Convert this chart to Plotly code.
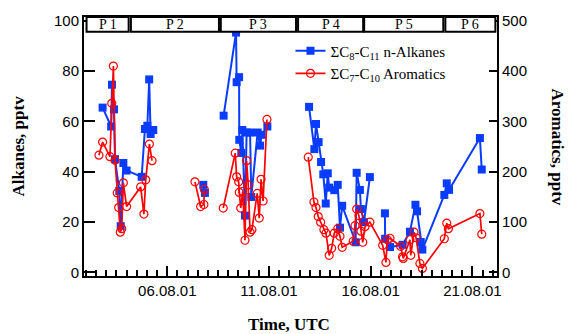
import pandas as pd
import plotly.graph_objects as go

# ---- data (day of August 2001, fractional; None = gap in record) ----
alk_day = [2.82, 3.24, 3.28, 3.38, 3.43, 3.64, 3.71, 3.84, 4.00, 4.74, 4.90, 5.02, 5.11, 5.18, 5.31,
           None,
           7.77, 7.85,
           None,
           8.77, 9.38, 9.41, 9.53, 9.54, 9.64, 9.69, 9.82, 9.90, 10.07, 10.13, 10.44, 10.56, 10.64, 10.92,
           None,
           12.97, 13.23, 13.31, 13.44, 13.56, 13.67, 13.79, 13.89, 13.96, 14.21, 14.38, 14.49, 14.60,
           15.26, 15.31, 15.47, 15.52, 15.67, 15.96,
           None,
           16.70, 16.71, 16.95, 17.57, 17.93, 18.20, 18.28, 18.46, 18.54,
           19.62, 19.74, 19.85, 21.37, 21.46]
alk_val = [65.5, 58.0, 74.6, 64.8, 45.0, 32.4, 18.4, 43.5, 40.5, 38.0, 57.0, 58.3, 76.7, 55.0, 56.6,
           None,
           34.8, 31.6,
           None,
           62.3, 95.3, 75.6, 77.6, 52.7, 47.5, 56.6, 22.6, 55.6, 55.6, 30.0, 55.6, 50.4, 54.7, 58.0,
           None,
           65.8, 49.0, 59.0, 51.8, 43.9, 39.0, 27.4, 39.4, 33.7, 32.7, 34.8, 17.8, 26.5,
           12.0, 39.6, 32.8, 25.2, 20.0, 37.9,
           None,
           23.5, 13.4, 10.1, 11.0, 16.2, 26.9, 24.3, 12.1, 9.1,
           30.8, 35.4, 32.8, 53.4, 40.9]

aro_day = [2.64, 2.82, 3.18, 3.27, 3.35, 3.43, 3.54, 3.61, 3.69, 3.76, 3.84, 4.00, 4.69, 4.85, 4.94, 5.12, 5.25,
           None,
           7.36, 7.64, 7.80, 7.82,
           None,
           8.75, 9.34, 9.41, 9.51, 9.54, 9.61, 9.71, 9.82, 9.90, 9.98, 10.07, 10.16, 10.42, 10.52, 10.61, 10.71, 10.90,
           None,
           12.93, 13.21, 13.31, 13.42, 13.54, 13.70, 13.80, 13.96, 14.08, 14.21, 14.38, 14.49, 14.60,
           15.14, 15.23, 15.31, 15.42, 15.52, 15.61, 15.72, 15.96,
           16.59, 16.75, 16.82, 16.95, 17.47, 17.57, 17.60, 17.93, 17.97, 18.13, 18.23, 18.42, 18.54,
           19.62, 19.74, 19.82, 21.37, 21.46]
aro_val = [233, 259, 230, 336, 410, 223, 158, 129, 80, 87, 178, 131, 170, 116, 184, 255, 222,
           None,
           180, 131, 135, 165,
           None,
           128, 237, 190, 180, 159, 128, 161, 64, 222, 174, 80, 85, 157, 108, 185, 142, 304,
           None,
           229, 140, 129, 111, 100, 85, 78, 34, 48, 78, 87, 72, 50,
           62, 93, 126, 113, 82, 60, 91, 100,
           54, 20, 65, 68, 52, 31, 28, 65, 34, 80, 69, 18, 8,
           67, 98, 87, 117, 76]

period_labels = ["P 1", "P 2", "P 3", "P 4", "P 5", "P 6"]
period_start = [2.03, 4.21, 8.63, 12.43, 15.68, 19.67]
period_end = [4.10, 8.54, 12.33, 15.63, 19.57, 22.13]

x_start_day, x_end_day = 1.905, 22.21


def to_time(d):
    if d is None:
        return None
    return pd.Timestamp("2001-08-01") + pd.to_timedelta(d - 1, unit="D")


BLUE = "rgb(10,60,255)"
RED = "rgb(255,0,0)"
SERIF = "Liberation Serif, Times New Roman, serif"
SANS = "Liberation Sans, Arial, sans-serif"

fig = go.Figure()
fig.add_trace(go.Scatter(
    x=[to_time(d) for d in alk_day], y=alk_val,
    mode="lines+markers", name="ΣC<sub>8</sub>-C<sub>11</sub> n-Alkanes",
    line=dict(color=BLUE, width=2),
    marker=dict(symbol="square", size=8, color=BLUE),
    connectgaps=False, yaxis="y"))
fig.add_trace(go.Scatter(
    x=[to_time(d) for d in aro_day], y=aro_val,
    mode="lines+markers", name="ΣC<sub>7</sub>-C<sub>10</sub> Aromatics",
    line=dict(color=RED, width=1.7),
    marker=dict(symbol="circle-open", size=8, color=RED, line=dict(width=1.2)),
    connectgaps=False, yaxis="y2"))

# period boxes
box_h = 15 / 262
for lab, s, e in zip(period_labels, period_start, period_end):
    fig.add_shape(type="rect", xref="x", yref="paper",
                  x0=to_time(s), x1=to_time(e), y0=1 - box_h, y1=1,
                  line=dict(color="black", width=2), fillcolor="white", layer="above")
    fig.add_annotation(xref="x", yref="paper", x=to_time((s + e) / 2), y=1 - box_h / 2,
                       text=lab, showarrow=False, font=dict(family=SERIF, size=14, color="black"),
                       yanchor="middle")

# axis titles
fig.add_annotation(xref="paper", yref="paper", x=(289 - 84) / 413, y=-(325 - 276) / 262,
                   text="<b>Time, UTC</b>", showarrow=False, yanchor="middle",
                   font=dict(family=SERIF, size=17, color="black"))
fig.add_annotation(xref="paper", yref="paper", x=-(84 - 18) / 413, y=0.5,
                   text="<b>Alkanes, pptv</b>", showarrow=False, textangle=-90,
                   xanchor="center", yanchor="middle",
                   font=dict(family=SERIF, size=17, color="black"))
fig.add_annotation(xref="paper", yref="paper", x=1 + (557 - 497) / 413, y=0.5,
                   text="<b>Aromatics, pptv</b>", showarrow=False, textangle=90,
                   xanchor="center", yanchor="middle",
                   font=dict(family=SERIF, size=17, color="black"))

fig.update_layout(
    width=570, height=334,
    margin=dict(l=84, r=73, t=14, b=58),
    paper_bgcolor="white", plot_bgcolor="white",
    showlegend=True,
    legend=dict(x=0.50, y=0.932, xanchor="left", yanchor="top",
                bgcolor="rgba(0,0,0,0)", font=dict(family=SERIF, size=15, color="black"),
                itemwidth=30, tracegroupgap=0),
    xaxis=dict(
        type="date",
        range=[to_time(x_start_day), to_time(x_end_day)],
        tickmode="linear", tick0="2001-08-06", dtick=5 * 86400000,
        tickformat="%d.%m.%y",
        ticks="inside", ticklen=10, tickwidth=2, tickcolor="black",
        minor=dict(ticks="inside", ticklen=6, tickwidth=2, tickcolor="black",
                   dtick=43200000, tick0="2001-08-06", showgrid=False),
        showline=True, linecolor="black", linewidth=2, mirror=True,
        showgrid=False, zeroline=False,
        tickfont=dict(family=SANS, size=15, color="black"),
    ),
    yaxis=dict(
        range=[-1.4, 101.5], tickmode="linear", tick0=0, dtick=20,
        ticks="inside", ticklen=11, tickwidth=2, tickcolor="black",
        showline=True, linecolor="black", linewidth=2,
        showgrid=False, zeroline=False,
        tickfont=dict(family=SANS, size=15, color="black"),
    ),
    yaxis2=dict(
        range=[-7, 507.5], tickmode="linear", tick0=0, dtick=100,
        overlaying="y", side="right",
        ticks="inside", ticklen=8, tickwidth=2, tickcolor="black",
        showline=True, linecolor="black", linewidth=2,
        showgrid=False, zeroline=False,
        tickfont=dict(family=SANS, size=15, color="black"),
    ),
)

fig.write_html("out.html", config={"displayModeBar": False},
               post_script="document.body.style.margin='0';document.body.style.padding='0';")
